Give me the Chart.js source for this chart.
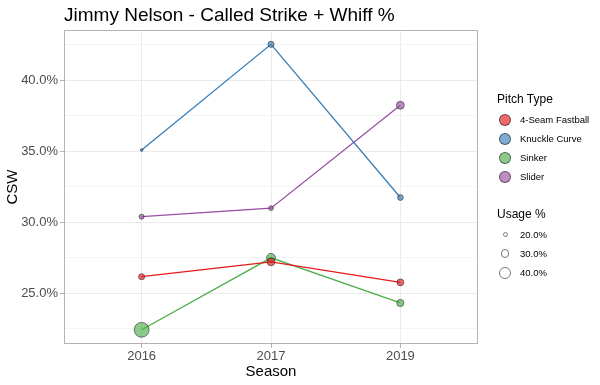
<!DOCTYPE html>
<html lang="en">
<head>
    <meta charset="UTF-8">
    <title>Jimmy Nelson - Called Strike + Whiff %</title>
    <script src="https://cdn.jsdelivr.net/npm/chart.js"></script>
    <style>
        body {
            margin: 0;
            padding: 0;
            background: #ffffff;
            font-family: "Liberation Sans", Arial, sans-serif;
        }
        .wrap {
            position: relative;
            width: 600px;
            height: 385px;
        }
        .title {
            position: absolute;
            left: 64px;
            top: 4px;
            font-size: 19px;
            color: #000;
            white-space: nowrap;
        }
        .legend {
            position: absolute;
            left: 497px;
            top: 92px;
            color: #000;
        }
        .legend h4 {
            margin: 0 0 4px 0;
            font-weight: normal;
            font-size: 12px;
        }
        .legend .item {
            display: flex;
            align-items: center;
            height: 19px;
            font-size: 9.5px;
        }
        .legend .key {
            width: 16px;
            display: flex;
            justify-content: center;
            margin-right: 7px;
        }
        .legend .dot {
            border-radius: 50%;
            box-sizing: border-box;
        }
        #usageLegend { margin-top: 21px; }
    </style>
</head>
<body>
<div class="wrap">
    <div class="title">Jimmy Nelson - Called Strike + Whiff %</div>
    <canvas id="cswChart" width="600" height="385"></canvas>
    <div class="legend">
        <div id="typeLegend"><h4>Pitch Type</h4></div>
        <div id="usageLegend"><h4>Usage %</h4></div>
    </div>
</div>

<script>
    // data
    const seasons = ['2016', '2017', '2019'];
    const pitchTypes = ['4-Seam Fastball', 'Knuckle Curve', 'Sinker', 'Slider'];
    const pitchColors = ['#E41A1C', '#377EB8', '#4DAF4A', '#984EA3'];

    const fastballCsw = [26.17, 27.22, 25.77];
    const curveCsw = [35.09, 42.54, 31.75];
    const sinkerCsw = [22.43, 27.50, 24.32];
    const sliderCsw = [30.40, 31.00, 38.25];

    const fastballUsage = [26, 31, 28];
    const curveUsage = [16, 26, 25];
    const sinkerUsage = [51, 34, 29];
    const sliderUsage = [23, 22, 31];

    const yTicks = [25, 30, 35, 40];
    const usageBreaks = [20, 30, 40];

    const cswSeries = [fastballCsw, curveCsw, sinkerCsw, sliderCsw];
    const usageSeries = [fastballUsage, curveUsage, sinkerUsage, sliderUsage];

    // point radius from usage %
    function usageRadius(u) {
        return Math.max(1, (0.35 * u - 3) / 2);
    }

    function hexAlpha(hex, a) {
        const n = parseInt(hex.slice(1), 16);
        return `rgba(${(n >> 16) & 255}, ${(n >> 8) & 255}, ${n & 255}, ${a})`;
    }

    const datasets = pitchTypes.map((name, i) => ({
        label: name,
        data: cswSeries[i].map((v, j) => ({ x: j, y: v })),
        borderColor: pitchColors[i],
        borderWidth: 1.3,
        backgroundColor: hexAlpha(pitchColors[i], 0.65),
        pointBackgroundColor: hexAlpha(pitchColors[i], 0.65),
        pointBorderColor: 'rgba(40, 40, 40, 0.6)',
        pointBorderWidth: 1,
        pointRadius: usageSeries[i].map(usageRadius),
        pointHoverRadius: usageSeries[i].map(usageRadius),
        tension: 0
    }));

    // minor gridlines halfway between the labelled ticks
    const minorTicks = [yTicks[0] - 2.5].concat(yTicks.map(t => t + 2.5));

    const panelBorder = {
        id: 'panelBorder',
        afterDraw(chart) {
            const { ctx, chartArea: a } = chart;
            ctx.save();
            ctx.strokeStyle = '#b3b3b3';
            ctx.lineWidth = 1;
            ctx.strokeRect(a.left + 0.5, a.top + 0.5, a.right - a.left - 1, a.bottom - a.top - 1);
            ctx.restore();
        }
    };

    const axisFont = { family: '"Liberation Sans", Arial, sans-serif', size: 13 };
    const titleFont = { family: '"Liberation Sans", Arial, sans-serif', size: 15 };

    new Chart(document.getElementById('cswChart'), {
        type: 'line',
        data: { datasets },
        options: {
            responsive: false,
            animation: false,
            layout: { padding: { top: 30, right: 122, left: 0, bottom: 0 } },
            plugins: {
                legend: { display: false },
                tooltip: { enabled: false },
                title: { display: false }
            },
            scales: {
                x: {
                    type: 'linear',
                    min: -0.6,
                    max: 2.6,
                    afterBuildTicks: s => { s.ticks = seasons.map((_, i) => ({ value: i })); },
                    afterFit: s => { s.height = 41; },
                    ticks: {
                        color: '#4d4d4d',
                        font: axisFont,
                        padding: 1,
                        autoSkip: false,
                        maxRotation: 0,
                        callback: v => seasons[v]
                    },
                    grid: {
                        color: '#ebebeb',
                        tickColor: '#b3b3b3',
                        tickLength: 4
                    },
                    border: { display: false },
                    title: {
                        display: true,
                        text: 'Season',
                        color: '#000',
                        font: titleFont,
                        padding: { top: 0, bottom: 4 }
                    }
                },
                y: {
                    type: 'linear',
                    min: 21.43,
                    max: 43.55,
                    afterBuildTicks: s => {
                        s.ticks = yTicks.concat(minorTicks).sort((a, b) => a - b).map(v => ({ value: v }));
                    },
                    afterFit: s => { s.width = 64; },
                    ticks: {
                        color: '#4d4d4d',
                        font: axisFont,
                        padding: 2,
                        autoSkip: false,
                        callback: v => yTicks.includes(v) ? v.toFixed(1) + '%' : ''
                    },
                    grid: {
                        color: c => yTicks.includes(c.tick.value) ? '#ebebeb' : '#f4f4f4',
                        tickColor: c => yTicks.includes(c.tick.value) ? '#b3b3b3' : 'rgba(0,0,0,0)',
                        tickLength: 4
                    },
                    border: { display: false },
                    title: {
                        display: true,
                        text: 'CSW',
                        color: '#000',
                        font: titleFont,
                        padding: { top: 4, bottom: 0 }
                    }
                }
            }
        },
        plugins: [panelBorder]
    });

    // legends
    const typeLegend = document.getElementById('typeLegend');
    pitchTypes.forEach((name, i) => {
        const row = document.createElement('div');
        row.className = 'item';
        row.innerHTML = `<span class="key"><span class="dot" style="width:12px;height:12px;background:${hexAlpha(pitchColors[i], 0.65)};border:1px solid rgba(40,40,40,0.6)"></span></span>${name}`;
        typeLegend.appendChild(row);
    });

    const usageLegend = document.getElementById('usageLegend');
    usageBreaks.forEach(u => {
        const d = 2 * usageRadius(u) + 1;
        const row = document.createElement('div');
        row.className = 'item';
        row.innerHTML = `<span class="key"><span class="dot" style="width:${d}px;height:${d}px;border:1px solid #7a7a7a"></span></span>${u.toFixed(1)}%`;
        usageLegend.appendChild(row);
    });
</script>
</body>
</html>
